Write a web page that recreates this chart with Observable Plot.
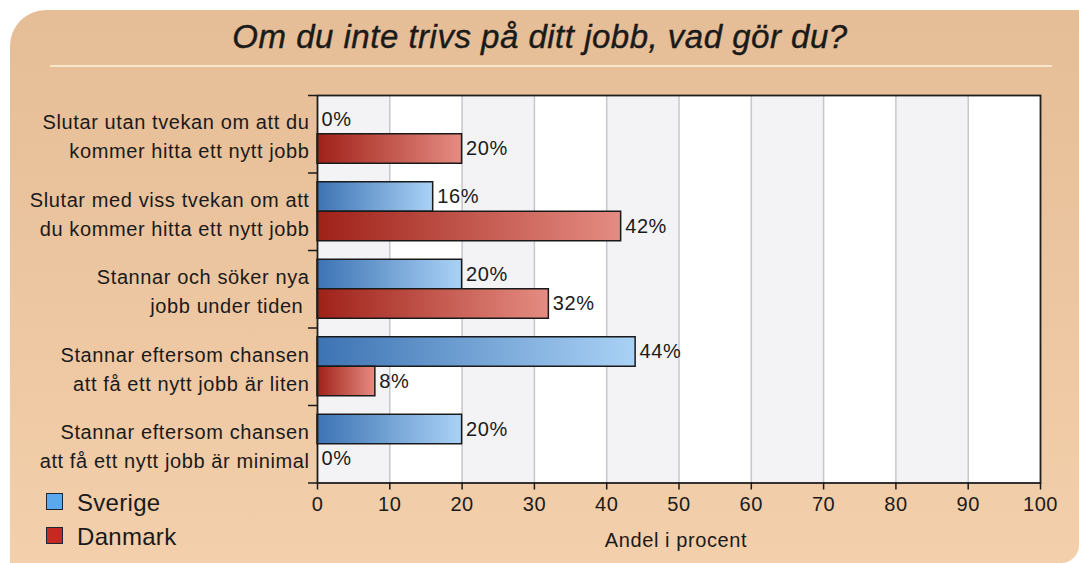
<!DOCTYPE html>
<html>
<head>
<meta charset="utf-8">
<script src="https://cdn.jsdelivr.net/npm/d3@7"></script>
<script src="https://cdn.jsdelivr.net/npm/@observablehq/plot@0.6"></script>
<style>
  body { margin: 0; background: #fff; }
  #wrap { position: relative; width: 1079px; height: 563px; overflow: hidden;
          font-family: "Liberation Sans", Arial, sans-serif; color: #1a1a1a; }
  #panel { position: absolute; left: 10px; top: 10px; width: 1069px; height: 553px;
           border-radius: 36px 0 18px 0;
           background: linear-gradient(#e5bd96, #f3cfab); }
  #title { position: absolute; left: 0; width: 1080px; top: 20px; line-height: 33px;
           text-align: center; font-style: italic; font-size: 33px; letter-spacing: 0.5px;
           -webkit-text-stroke: 0.4px #1a1a1a; }
  #titleRule { position: absolute; left: 50px; width: 1002px; top: 65px; height: 2px; background: #f8e6c8; }
  #chart { position: absolute; left: 0; top: 0; }
  .leg { position: absolute; left: 46px; font-size: 24px; line-height: 24px; letter-spacing: 0.3px; }
  .leg span.sw { position: absolute; left: 0; width: 15px; height: 15px; border: 1.6px solid #1e2633; }
  .leg span.tx { position: absolute; left: 31px; white-space: nowrap; }
  #xlabel { position: absolute; left: 576px; width: 200px; top: 530px; text-align: center;
            font-size: 20px; line-height: 20px; letter-spacing: 0.6px; }
</style>
</head>
<body>
<div id="wrap">
  <div id="panel"></div>
  <div id="title"></div>
  <div id="titleRule"></div>
  <div id="chart"></div>
  <div id="xlabel"></div>
  <div id="legend"></div>
</div>
<script>
// ---- data ----
const titleText = "Om du inte trivs på ditt jobb, vad gör du?";
const xLabelText = "Andel i procent";
const categories = [
  "Slutar utan tvekan om att du\nkommer hitta ett nytt jobb",
  "Slutar med viss tvekan om att\ndu kommer hitta ett nytt jobb",
  "Stannar och söker nya\njobb under tiden\u00a0",
  "Stannar eftersom chansen\natt få ett nytt jobb är liten",
  "Stannar eftersom chansen\natt få ett nytt jobb är minimal"
];
const series = ["Sverige", "Danmark"];
const sverige = [0, 16, 20, 44, 20];
const danmark = [20, 42, 32, 8, 0];
const xTicks = [0, 10, 20, 30, 40, 50, 60, 70, 80, 90, 100];
const seriesColors = ["#5aa8ee", "#c42a20"];

// ---- build table ----
const rows = [];
categories.forEach((c, i) => {
  rows.push({category: c, series: series[0], value: sverige[i]});
  rows.push({category: c, series: series[1], value: danmark[i]});
});
// alternate background stripes between ticks
const stripes = [];
for (let i = 0; i + 1 < xTicks.length; i += 2) stripes.push({a: xTicks[i], b: xTicks[i + 1]});

// ---- layout ----
const W = 1079, H = 563;
const mTop = 95, mBottom = 80.5, mLeft = 317, mRight = 39;
const bw = (H - mTop - mBottom) / categories.length;
const barH = 29.5;
const gap = (bw - 2 * barH) / 2;
const plotW = W - mLeft - mRight;

const chart = Plot.plot({
  width: W, height: H,
  marginTop: mTop, marginBottom: mBottom, marginLeft: mLeft, marginRight: mRight,
  style: {background: "transparent", fontFamily: "'Liberation Sans', Arial, sans-serif",
          fontSize: "20px", color: "#1a1a1a", overflow: "visible", letterSpacing: "0.6px"},
  x: {domain: [0, 100]},
  y: {domain: categories, padding: 0, round: false},
  marks: [
    Plot.frame({fill: "white", stroke: "none"}),
    Plot.rect(stripes, {x1: "a", x2: "b", fill: "#f3f3f6"}),
    Plot.ruleX(xTicks.slice(1, -1), {stroke: "#c6c6cc", strokeWidth: 1.5}),
    Plot.barX(rows, {filter: d => d.series === series[0] && d.value > 0, x: "value", y: "category",
      fill: "url(#gradSverige)", stroke: "#1a1a1a", strokeWidth: 1.5,
      insetTop: gap, insetBottom: bw - gap - barH}),
    Plot.barX(rows, {filter: d => d.series === series[1] && d.value > 0, x: "value", y: "category",
      fill: "url(#gradDanmark)", stroke: "#1a1a1a", strokeWidth: 1.5,
      insetTop: gap + barH, insetBottom: gap}),
    Plot.text(rows, {filter: d => d.series === series[0], x: "value", y: "category",
      text: d => `${d.value}%`, textAnchor: "start", dx: 4, dy: -barH / 2, fill: "#1a1a1a"}),
    Plot.text(rows, {filter: d => d.series === series[1], x: "value", y: "category",
      text: d => `${d.value}%`, textAnchor: "start", dx: 4, dy: barH / 2, fill: "#1a1a1a"}),
    Plot.ruleY(categories, {y: d => d, dy: -bw / 2, insetLeft: -9, insetRight: plotW,
      stroke: "#1a1a1a", strokeWidth: 1.5}),
    Plot.ruleY(categories.slice(-1), {y: d => d, dy: bw / 2, insetLeft: -9, insetRight: plotW,
      stroke: "#1a1a1a", strokeWidth: 1.5}),
    Plot.frame({stroke: "#1f1f1f", strokeWidth: 1.8}),
    Plot.axisX({ticks: xTicks, tickSize: 7, tickPadding: 7, label: null, strokeWidth: 1.5}),
    Plot.axisY({tickSize: 0, tickPadding: 8, lineHeight: 1.45, textAnchor: "end", label: null})
  ]
});

// gradients
const defs = document.createElementNS("http://www.w3.org/2000/svg", "defs");
defs.innerHTML = `
  <linearGradient id="gradSverige" x1="0" x2="1" y1="0" y2="0">
    <stop offset="0" stop-color="#3c73b3"/><stop offset="1" stop-color="#aad2f6"/>
  </linearGradient>
  <linearGradient id="gradDanmark" x1="0" x2="1" y1="0" y2="0">
    <stop offset="0" stop-color="#9f2118"/><stop offset="1" stop-color="#e58c82"/>
  </linearGradient>`;
chart.insertBefore(defs, chart.firstChild);
document.getElementById("chart").appendChild(chart);

document.getElementById("title").textContent = titleText;
document.getElementById("xlabel").textContent = xLabelText;

const legend = document.getElementById("legend");
series.forEach((s, i) => {
  const d = document.createElement("div");
  d.className = "leg";
  d.style.top = (i === 0 ? 491 : 525) + "px";
  d.innerHTML = `<span class="sw" style="background:${seriesColors[i]};top:2px"></span><span class="tx">${s}</span>`;
  legend.appendChild(d);
});
</script>
</body>
</html>
